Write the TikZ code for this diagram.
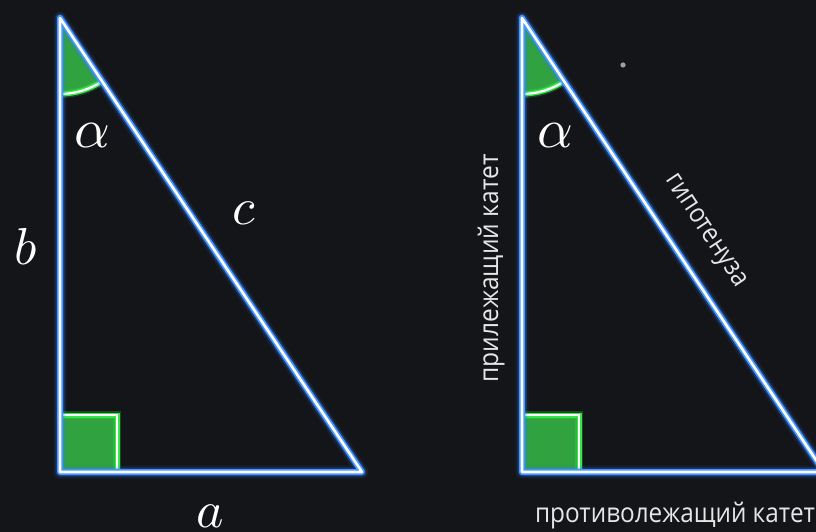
\documentclass[tikz,border=0pt]{standalone}
\usepackage{fontspec}
\usepackage{graphicx}
\newfontfamily\rufont{Open Sans}
\definecolor{bgc}{RGB}{20,21,24}
\definecolor{glowblue}{RGB}{47,127,255}
\definecolor{edgeblue}{RGB}{70,150,255}
\definecolor{fillgreen}{RGB}{48,162,64}
\definecolor{glowgreen}{RGB}{51,232,68}
\definecolor{txtgray}{RGB}{230,230,230}
\begin{document}
\begin{tikzpicture}[x=1pt,y=-1pt,
  glowA/.style={line width=13pt, draw=glowblue, draw opacity=0.10, line join=round, line cap=round},
  glowB/.style={line width=9pt, draw=glowblue, draw opacity=0.30, line join=round, line cap=round},
  glowC/.style={line width=6pt, draw=edgeblue, line join=round, line cap=round},
  core/.style={line width=2.6pt, draw=white, line join=round, line cap=round},
  ggA/.style={line width=8pt, draw=glowgreen, draw opacity=0.25},
  ggB/.style={line width=5pt, draw=glowgreen},
  ggC/.style={line width=2.2pt, draw=white},
  greenfill/.style={fill=fillgreen},
  mathlbl/.style={text=white, inner sep=0pt, anchor=base, scale=5.2},
  rutext/.style={text=txtgray, inner sep=0pt, anchor=base, font=\rufont\fontsize{27}{30}\selectfont}
]
\fill[bgc] (0,0) rectangle (816,532);
\useasboundingbox (0,0) rectangle (816,532);
\clip (0,0) rectangle (816,532);

% ---------- left triangle ----------
\coordinate (T1) at (60,18);
\coordinate (R1) at (60,472);
\coordinate (E1) at (362,472);
\coordinate (Q1) at (117,415);
\fill[greenfill] (T1) -- ++(90:76) arc[start angle=90,end angle=56.4,radius=76] -- cycle;
\fill[greenfill] (60,415) rectangle (117,472);
\foreach \s in {ggA,ggB,ggC}{
  \draw[\s] (T1) ++(90:76) arc[start angle=90,end angle=56.4,radius=76];
  \draw[\s] (60,415) -- (Q1) -- (117,472);
}
\foreach \s in {glowA,glowB,glowC,core}{
  \draw[\s] (T1) -- (R1) -- (E1) -- cycle;
}

% ---------- right triangle ----------
\coordinate (T2) at (522,18);
\coordinate (R2) at (522,472);
\coordinate (E2) at (824,472);
\coordinate (Q2) at (579,415);
\fill[greenfill] (T2) -- ++(90:76) arc[start angle=90,end angle=56.4,radius=76] -- cycle;
\fill[greenfill] (522,415) rectangle (579,472);
\foreach \s in {ggA,ggB,ggC}{
  \draw[\s] (T2) ++(90:76) arc[start angle=90,end angle=56.4,radius=76];
  \draw[\s] (522,415) -- (Q2) -- (579,472);
}
\foreach \s in {glowA,glowB,glowC,core}{
  \draw[\s] (T2) -- (R2) -- (E2) -- cycle;
}

% small grey dot
\fill[gray!75] (623,65) circle[radius=2.6];

% ---------- labels ----------
\node[mathlbl, scale=1.07] (la1) at (92.5,147) {$\alpha$};
\node[mathlbl] (lb) at (26,264) {$b$};
\node[mathlbl] (lc) at (244,224) {$c$};
\node[mathlbl] (la) at (210.5,527) {$a$};
\node[mathlbl, scale=1.07] (la2) at (555,147) {$\alpha$};

\node[rutext, rotate=90] (adj) at (498,268.5) {\resizebox{228pt}{\height}{прилежащий катет}};
\node[rutext] (opp) at (675,522) {\resizebox{280pt}{\height}{противолежащий катет}};
\node[rutext, rotate=-56.4] (hyp) at (701,234) {\resizebox{130pt}{\height}{гипотенуза}};
\end{tikzpicture}
\end{document}
